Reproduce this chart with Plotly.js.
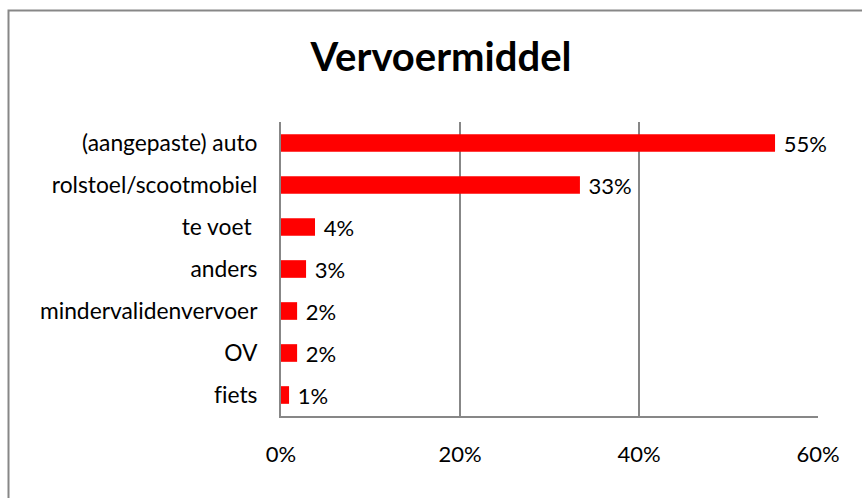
<!DOCTYPE html>
<html>
<head>
<meta charset="utf-8">
<script src="https://cdn.plot.ly/plotly-3.0.1.min.js"></script>
<style>html,body{margin:0;padding:0;background:#fff;}#chart{width:862px;height:498px;}
#chart text{font-variant-ligatures:none;font-feature-settings:"liga" 0;}</style>
</head>
<body>
<div id="chart"></div>
<script>
const categories = ["(aangepaste) auto", "rolstoel/scootmobiel", "te voet ", "anders", "mindervalidenvervoer", "OV", "fiets"];
const values = [55.2, 33.4, 3.8, 2.8, 1.8, 1.8, 0.9];
const valueLabels = ["55%", "33%", "4%", "3%", "2%", "2%", "1%"];
const tickValues = [0, 20, 40, 60];
const tickLabels = ["0%", "20%", "40%", "60%"];

const font = "Lato, 'Open Sans', sans-serif";
const grid = "#878787";

const trace = {
  type: "bar",
  orientation: "h",
  x: values,
  y: categories,
  text: valueLabels,
  texttemplate: " %{text}",
  textposition: "outside",
  constraintext: "none",
  cliponaxis: false,
  textfont: {family: font, size: 22, color: "#000"},
  marker: {color: "#ff0000"},
  width: 0.42,
  hoverinfo: "none"
};

const layout = {
  width: 862, height: 498,
  margin: {l: 281, r: 44, t: 122, b: 82},
  paper_bgcolor: "#fff", plot_bgcolor: "#fff",
  showlegend: false,
  title: {text: "<b>Vervoermiddel</b>", font: {family: font, size: 40, color: "#000"}, x: 441/862, xanchor: "center", y: 1 - 57/498, yanchor: "middle"},
  xaxis: {
    range: [0, 60], tickvals: tickValues, ticktext: tickLabels,
    showgrid: true, gridcolor: grid, gridwidth: 2,
    showline: true, linecolor: grid, linewidth: 2,
    zeroline: false, ticks: "", ticklabelstandoff: 18,
    tickfont: {family: font, size: 22, color: "#000"}, fixedrange: true
  },
  yaxis: {
    autorange: "reversed", showgrid: false,
    showline: true, linecolor: grid, linewidth: 2,
    ticks: "", ticklabelstandoff: 17,
    tickfont: {family: font, size: 22.8, color: "#000"}, fixedrange: true
  },
  shapes: [{
    type: "rect", xref: "paper", yref: "paper",
    x0: (8.5 - 281) / 537, x1: (880 - 281) / 537,
    y0: 1 - (520 - 122) / 294, y1: 1 + (122 - 10.5) / 294,
    line: {color: grid, width: 2}, fillcolor: "rgba(0,0,0,0)", layer: "below"
  }]
};

Plotly.newPlot("chart", [trace], layout, {displayModeBar: false, staticPlot: true});
</script>
</body>
</html>
